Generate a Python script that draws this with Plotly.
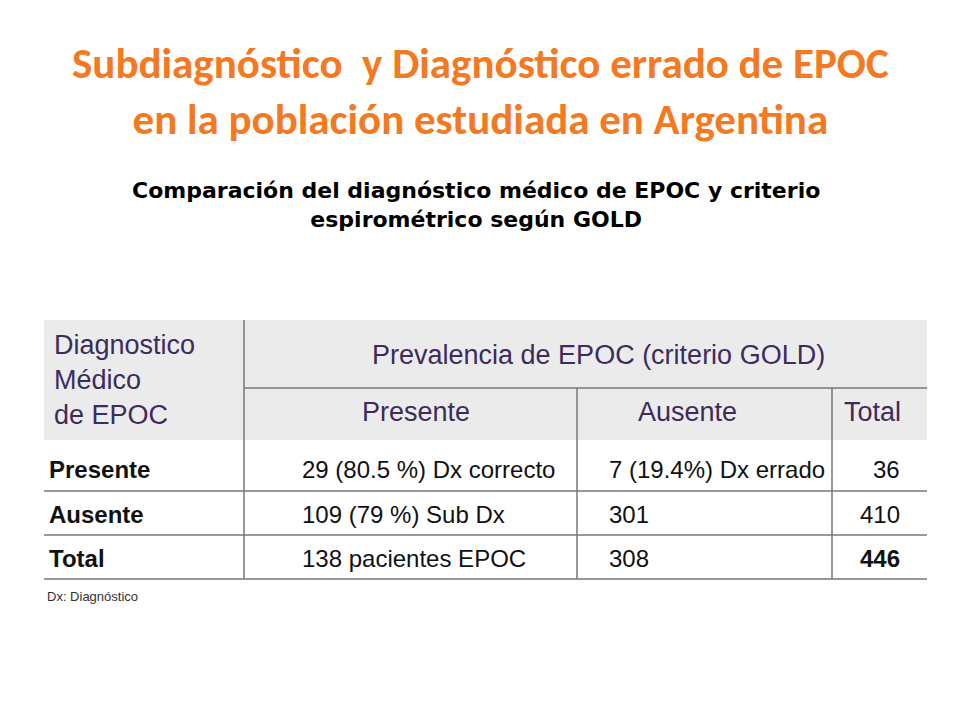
import plotly.graph_objects as go

title = "Subdiagnóstico  y Diagnóstico errado de EPOC<br>en la población estudiada en Argentina"
subtitle = "Comparación del diagnóstico médico de EPOC y criterio<br>espirométrico según GOLD"

row_labels = ["Presente", "Ausente", "Total"]
col_presente = ["29 (80.5 %) Dx correcto", "109 (79 %) Sub Dx", "138 pacientes EPOC"]
col_ausente = ["7 (19.4%) Dx errado", "301", "308"]
col_total = ["36", "410", "<b>446</b>"]
header_top = "Prevalencia de EPOC (criterio GOLD)"
header_sub = ["Presente", "Ausente", "Total"]
header_left = "Diagnostico<br>Médico<br>de EPOC"
footnote = "Dx: Diagnóstico"

# geometry (pixel space)
col_edges = [44, 244, 577, 832, 927]
row_mid = [469, 514, 558]
row_lines = [491, 535, 579]
hdr_top, hdr_mid, hdr_bot = 320, 388, 440

purple = "#3d2b5c"
narrow = "Liberation Sans Narrow, Arial Narrow, Liberation Sans, sans-serif"
ann, shp = [], []

shp.append(dict(type="rect", x0=col_edges[0], x1=col_edges[-1], y0=hdr_top, y1=hdr_bot,
                fillcolor="#ebebeb", line_width=0, layer="below"))
shp.append(dict(type="line", x0=col_edges[1], x1=col_edges[1], y0=hdr_top, y1=row_lines[-1],
                line=dict(color="#777", width=1.5)))
for xe in col_edges[2:4]:
    shp.append(dict(type="line", x0=xe, x1=xe, y0=hdr_mid, y1=row_lines[-1],
                    line=dict(color="#777", width=1.5)))
shp.append(dict(type="line", x0=col_edges[1], x1=col_edges[-1], y0=hdr_mid, y1=hdr_mid,
                line=dict(color="#777", width=1.5)))
for yl in row_lines:
    shp.append(dict(type="line", x0=col_edges[0], x1=col_edges[-1], y0=yl, y1=yl,
                    line=dict(color="#777", width=1.5)))

ann.append(dict(x=52, y=380, text=header_left, xanchor="left", yanchor="middle", align="left",
                font=dict(family="Liberation Sans, Arial", size=27, color=purple)))
ann.append(dict(x=(col_edges[1] + col_edges[-1]) / 2 + 13, y=355, text=header_top,
                font=dict(family="Liberation Sans, Arial", size=27, color=purple)))
sub_x = [(col_edges[1] + col_edges[2]) / 2 + 5, (col_edges[2] + col_edges[3]) / 2 - 17,
         (col_edges[3] + col_edges[4]) / 2 - 7]
for xs, t in zip(sub_x, header_sub):
    ann.append(dict(x=xs, y=412, text=t, font=dict(family="Liberation Sans, Arial", size=27, color=purple)))

for i, y in enumerate(row_mid):
    cells = [(47, "<b>" + row_labels[i] + "</b>"), (300, col_presente[i]),
             (607, col_ausente[i]), (902, col_total[i])]
    for j, (xc, t) in enumerate(cells):
        ann.append(dict(x=xc, y=y, text=t, xanchor="right" if j == 3 else "left",
                        font=dict(family=narrow, size=24, color="#111")))

ann.append(dict(x=45, y=596, text=footnote, xanchor="left",
                font=dict(family=narrow, size=13, color="#333")))
ann.append(dict(x=480, y=91, text="<b>" + title + "</b>",
                font=dict(family="Carlito, Lato, sans-serif", size=43, color="#f47920")))
ann.append(dict(x=476, y=205, text="<b>" + subtitle + "</b>",
                font=dict(family="Verdana, DejaVu Sans, sans-serif", size=22, color="#000")))

for a in ann:
    a.update(xref="x", yref="y", showarrow=False)
    a.setdefault("xanchor", "center")
    a.setdefault("yanchor", "middle")
for s in shp:
    s.update(xref="x", yref="y")

fig = go.Figure()
# page body has an 8px margin, so shift the pixel ranges to compensate
fig.update_layout(width=960, height=720, margin=dict(l=0, r=0, t=0, b=0),
                  paper_bgcolor="white", plot_bgcolor="white",
                  xaxis=dict(range=[8, 968], visible=False),
                  yaxis=dict(range=[728, 8], visible=False),
                  annotations=ann, shapes=shp, showlegend=False)
fig.write_html("out.html")
